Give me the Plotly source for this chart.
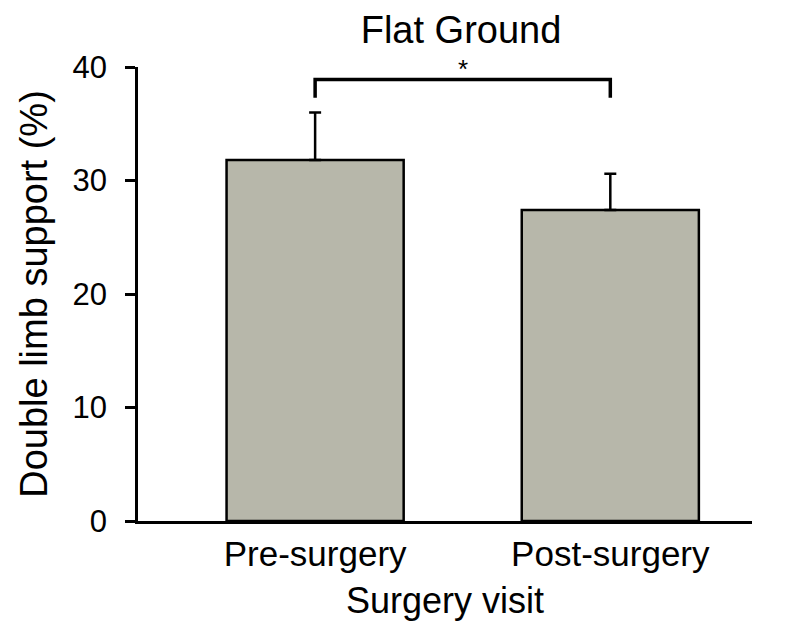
import plotly.graph_objects as go

categories = ["Pre-surgery", "Post-surgery"]
values = [31.8, 27.4]
errors = [4.2, 3.2]
bracket_y = 38.9
bracket_drop = 37.3
sig_label = "*"
y_ticks = [0, 10, 20, 30, 40]

FONT = "Liberation Sans, Arial, sans-serif"

fig = go.Figure()
fig.add_trace(go.Bar(
    x=[0, 1], y=values,
    width=0.6,
    marker=dict(color="#b7b7aa", line=dict(color="black", width=2.5)),
    error_y=dict(type="data", array=errors, arrayminus=[0, 0], symmetric=False,
                 color="black", thickness=2.5, width=6),
    showlegend=False,
))

# significance bracket
fig.add_trace(go.Scatter(
    x=[0, 0, 1, 1], y=[bracket_drop, bracket_y, bracket_y, bracket_drop],
    mode="lines", line=dict(color="black", width=3.5),
    showlegend=False, cliponaxis=False, hoverinfo="skip",
))
fig.add_annotation(x=0.5, y=bracket_y, text=sig_label, showarrow=False,
                   yanchor="bottom", yshift=-7, font=dict(size=26, color="black", family=FONT))

fig.update_layout(
    width=779, height=621,
    margin=dict(l=130, r=35, t=59, b=108),
    plot_bgcolor="white", paper_bgcolor="white",
    font=dict(family=FONT, color="black"),
    title=dict(text="Flat Ground", x=(461 - 8) / 779, xanchor="center",
               y=1 - (30 - 8) / 621, yanchor="middle",
               font=dict(size=38, color="black", family=FONT)),
)
fig.update_xaxes(
    range=[-0.6, 1.48],
    tickmode="array", tickvals=[0, 1], ticktext=categories,
    tickfont=dict(size=35, color="black"),
    showline=True, linecolor="black", linewidth=2.5,
    ticks="", showgrid=False, zeroline=False,
    title=dict(text="Surgery visit", font=dict(size=36, color="black"), standoff=17),
)
fig.update_yaxes(
    range=[0, 40],
    tickmode="array", tickvals=y_ticks,
    tickfont=dict(size=31, color="black"),
    ticklabelstandoff=12,
    showline=True, linecolor="black", linewidth=2.5,
    ticks="outside", ticklen=10, tickwidth=2.5, tickcolor="black",
    showgrid=False, zeroline=False,
    title=dict(text="Double limb support (%)", font=dict(size=38, color="black"), standoff=14),
)

fig.write_html("out.html")
